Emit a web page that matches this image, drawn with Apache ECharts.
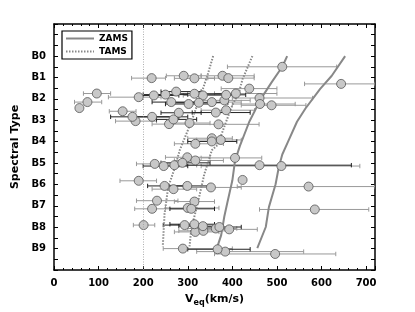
<!DOCTYPE html>
<html><head><meta charset="utf-8">
<script src="https://cdn.jsdelivr.net/npm/echarts@6/dist/echarts.min.js"></script>
<style>html,body{margin:0;padding:0;background:#fff}#c{width:415px;height:312px}</style>
</head><body><div id="c"></div>
<script>
// Spectral type tick labels (y positions 0..9)
const spectralTypes = ['B0','B1','B2','B3','B4','B5','B6','B7','B8','B9'];
const xTickValues = [0,100,200,300,400,500,600,700];

// Stars: [Veq, spectral-type position, Veq lower, Veq upper]
const starsA = [ // black error bars
  [224,1.84,185,280],[250,1.8,200,300],[274,1.66,240,330],[263,2.15,220,320],
  [302,2.24,250,350],[315,1.76,270,380],[325,2.18,270,390],[386,1.81,330,430],
  [176,2.84,127,300],[220,2.84,180,280],[268,2.96,230,320],[280,2.65,240,330],
  [363,2.64,310,440],[354,3.99,300,410],[246,5.14,200,300],[288,4.99,240,350],
  [461,5.1,280,667],[248,6.07,210,300],[299,6.07,250,350],[308,7.14,260,360],
  [293,7.9,245,340],[315,7.86,260,360],[334,7.95,280,380],[371,7.99,320,420],
  [367,9.03,300,440]
];
const starsB = [ // grey error bars
  [512,0.5,389,634],
  [219,1.03,174,250],[291,0.92,252,330],[315,1.04,270,360],[378,0.92,330,449],
  [391,1.03,345,449],[644,1.3,562,720],
  [96,1.75,66,127],[75,2.15,46,107],[57,2.43,50,64],[190,1.92,122,240],
  [334,1.84,290,400],[408,1.75,360,500],[438,1.52,375,500],[461,1.96,400,580],
  [462,2.24,400,541],[488,2.3,420,565],[354,2.15,300,420],[382,2.07,320,440],
  [154,2.58,124,184],[183,3.04,138,230],[258,3.18,220,300],[304,3.13,260,350],
  [386,2.53,330,450],[369,3.19,300,460],
  [317,4.1,270,380],[354,3.84,300,400],[374,3.92,320,420],
  [226,5.04,185,290],[270,5.1,230,320],[299,4.73,250,350],[317,4.88,270,380],
  [406,4.76,330,466],[510,5.14,330,686],
  [190,5.83,148,230],[268,6.22,220,320],[352,6.14,290,420],[423,5.79,423,423],
  [571,6.1,411,720],
  [231,6.76,185,278],[220,7.14,181,300],[315,6.8,270,360],[300,7.1,250,370],
  [585,7.17,461,706],
  [201,7.9,178,226],[317,8.22,270,370],[335,8.17,280,390],[363,8.06,300,410],
  [393,8.1,320,456],
  [289,9.0,245,400],[384,9.14,320,560],[496,9.25,360,632]
];

// Model curves: [Veq, spectral-type position]
const zamsV08 = [[523,0],[512,0.5],[488,1.23],[464,2],[438,3.07],[417,4.2],[406,4.9],[400,5.82],[389,6.83],[382,7.5],[375,8.37],[365,9]];
const zamsVcrit = [[653,0],[623,0.92],[597,1.53],[564,2.45],[545,3.07],[525,4.0],[512,4.6],[504,5.22],[497,5.99],[482,7.06],[475,7.99],[456,8.98]];
const tamsV08 = [[357,0],[345,0.84],[334,1.53],[326,2],[308,3.07],[282,4.4],[271,5.22],[256,6.14],[248,7.37],[244,8.9]];
const tamsVcrit = [[445,0],[423,1.07],[415,1.69],[400,2.3],[386,3.07],[367,4.15],[354,4.4],[337,5.53],[322,6.91],[308,8.06],[304,8.9]];

// Curve labels: [text subscript, Veq, position]
const curveLabels = [['0.8',377,-0.55],['crit',464,-0.55],['0.8',545,-0.55],['crit',676,-0.55]];
const thresholdV = 200;

const chart = echarts.init(document.getElementById('c'), null, {renderer:'canvas'});
const F = 'DejaVu Sans';

function errRender(color){
  return function(params, api){
    const y = api.value(1);
    const p1 = api.coord([api.value(2), y]);
    const p2 = api.coord([api.value(3), y]);
    const h = 2.2;
    const style = {stroke: color, lineWidth: 1};
    return {type:'group', children:[
      {type:'line', shape:{x1:p1[0],y1:p1[1],x2:p2[0],y2:p2[1]}, style},
      {type:'line', shape:{x1:p1[0],y1:p1[1]-h,x2:p1[0],y2:p1[1]+h}, style},
      {type:'line', shape:{x1:p2[0],y1:p2[1]-h,x2:p2[0],y2:p2[1]+h}, style}
    ]};
  };
}

const axisLine = {show:true, onZero:false, lineStyle:{color:'#000', width:1.5}};
const tickSty = {show:true, inside:true, length:4, lineStyle:{color:'#000', width:1}};
const minorSty = {show:true, splitNumber:5, length:2, lineStyle:{color:'#000', width:1}};

chart.setOption({
  animation:false,
  backgroundColor:'#fff',
  grid:{left:54, right:40, top:24, bottom:38, containLabel:false},
  legend:{
    show:true, orient:'vertical', left:62, top:31,
    data:['ZAMS','TAMS'],
    itemWidth:28, itemHeight:9, itemGap:4,
    padding:[3,4,3,3],
    borderColor:'#000', borderWidth:1.2,
    itemStyle:{opacity:0},
    textStyle:{fontFamily:F, fontWeight:'bold', fontSize:9, color:'#000'}
  },
  xAxis:[{
    type:'value', min:0, max:720, interval:100,
    axisLine, axisTick:tickSty, minorTick:minorSty, splitLine:{show:false},
    axisLabel:{fontFamily:F, fontWeight:'bold', fontSize:10, color:'#000', margin:8,
      formatter: v => xTickValues.includes(v) ? String(v) : ''},
    name:'{a|V}{b|eq}{a|(km/s)}', nameLocation:'middle', nameGap:22,
    nameTextStyle:{rich:{
      a:{fontFamily:F, fontWeight:'bold', fontSize:11, color:'#000'},
      b:{fontFamily:F, fontWeight:'bold', fontSize:8, color:'#000', padding:[7,0,0,0]}
    }}
  },{
    type:'value', position:'top', min:0, max:720, interval:100,
    axisLine, axisTick:tickSty, minorTick:minorSty, splitLine:{show:false},
    axisLabel:{show:false}
  }],
  yAxis:[{
    type:'value', inverse:true, min:-1.5, max:10, interval:0.5,
    axisLine, axisTick:tickSty, splitLine:{show:false},
    axisLabel:{fontFamily:F, fontWeight:'bold', fontSize:10, color:'#000', margin:8,
      formatter: v => (Number.isInteger(v) && v>=0 && v<spectralTypes.length) ? spectralTypes[v] : ''},
    name:'Spectral Type', nameLocation:'middle', nameGap:30,
    nameTextStyle:{fontFamily:F, fontWeight:'bold', fontSize:11, color:'#000'}
  },{
    type:'value', position:'right', inverse:true, min:-1.5, max:10, interval:0.5,
    axisLine, axisTick:tickSty, splitLine:{show:false}, axisLabel:{show:false}
  }],
  series:[
    {type:'line', name:'TAMS', data:tamsV08, symbol:'none', smooth:false,
     lineStyle:{color:'#888', width:2, type:[1.5,1.5]}, itemStyle:{color:'#888'},
     markLine:{silent:true, symbol:'none', label:{show:false},
       lineStyle:{color:'#999', width:0.8, type:[1,1.5]}, data:[{xAxis:thresholdV}]}},
    {type:'line', name:'TAMS', data:tamsVcrit, symbol:'none',
     lineStyle:{color:'#888', width:2, type:[1.5,1.5]}, itemStyle:{color:'#888'}},
    {type:'line', name:'ZAMS', data:zamsV08, symbol:'none',
     lineStyle:{color:'#888', width:2}, itemStyle:{color:'#888'}},
    {type:'line', name:'ZAMS', data:zamsVcrit, symbol:'none',
     lineStyle:{color:'#888', width:2}, itemStyle:{color:'#888'}},
    {type:'custom', name:'errB', data:starsB, renderItem:errRender('#999'), clip:true,
     encode:{x:[0,2,3], y:1}, z:3},
    {type:'custom', name:'errA', data:starsA, renderItem:errRender('#222'), clip:true,
     encode:{x:[0,2,3], y:1}, z:3},
    {type:'scatter', name:'starsB', data:starsB.map(d=>[d[0],d[1]]), symbolSize:9,
     itemStyle:{color:'#c8c8c8', borderColor:'#555', borderWidth:0.8, opacity:1}, z:4},
    {type:'scatter', name:'starsA', data:starsA.map(d=>[d[0],d[1]]), symbolSize:9,
     itemStyle:{color:'#c8c8c8', borderColor:'#555', borderWidth:0.8, opacity:1}, z:4},
    {type:'scatter', name:'labels', data:curveLabels.map(d=>({value:[d[1],d[2]], sub:d[0]})),
     symbol:'none', silent:true,
     label:{show:true, position:'inside',
       formatter: p => '{v|V}{s|' + p.data.sub + '}',
       rich:{
         v:{fontFamily:F, fontSize:8.5, color:'#222'},
         s:{fontFamily:F, fontSize:6.5, color:'#444', padding:[4,0,0,0]}
       }}, z:5}
  ]
});
</script></body></html>
